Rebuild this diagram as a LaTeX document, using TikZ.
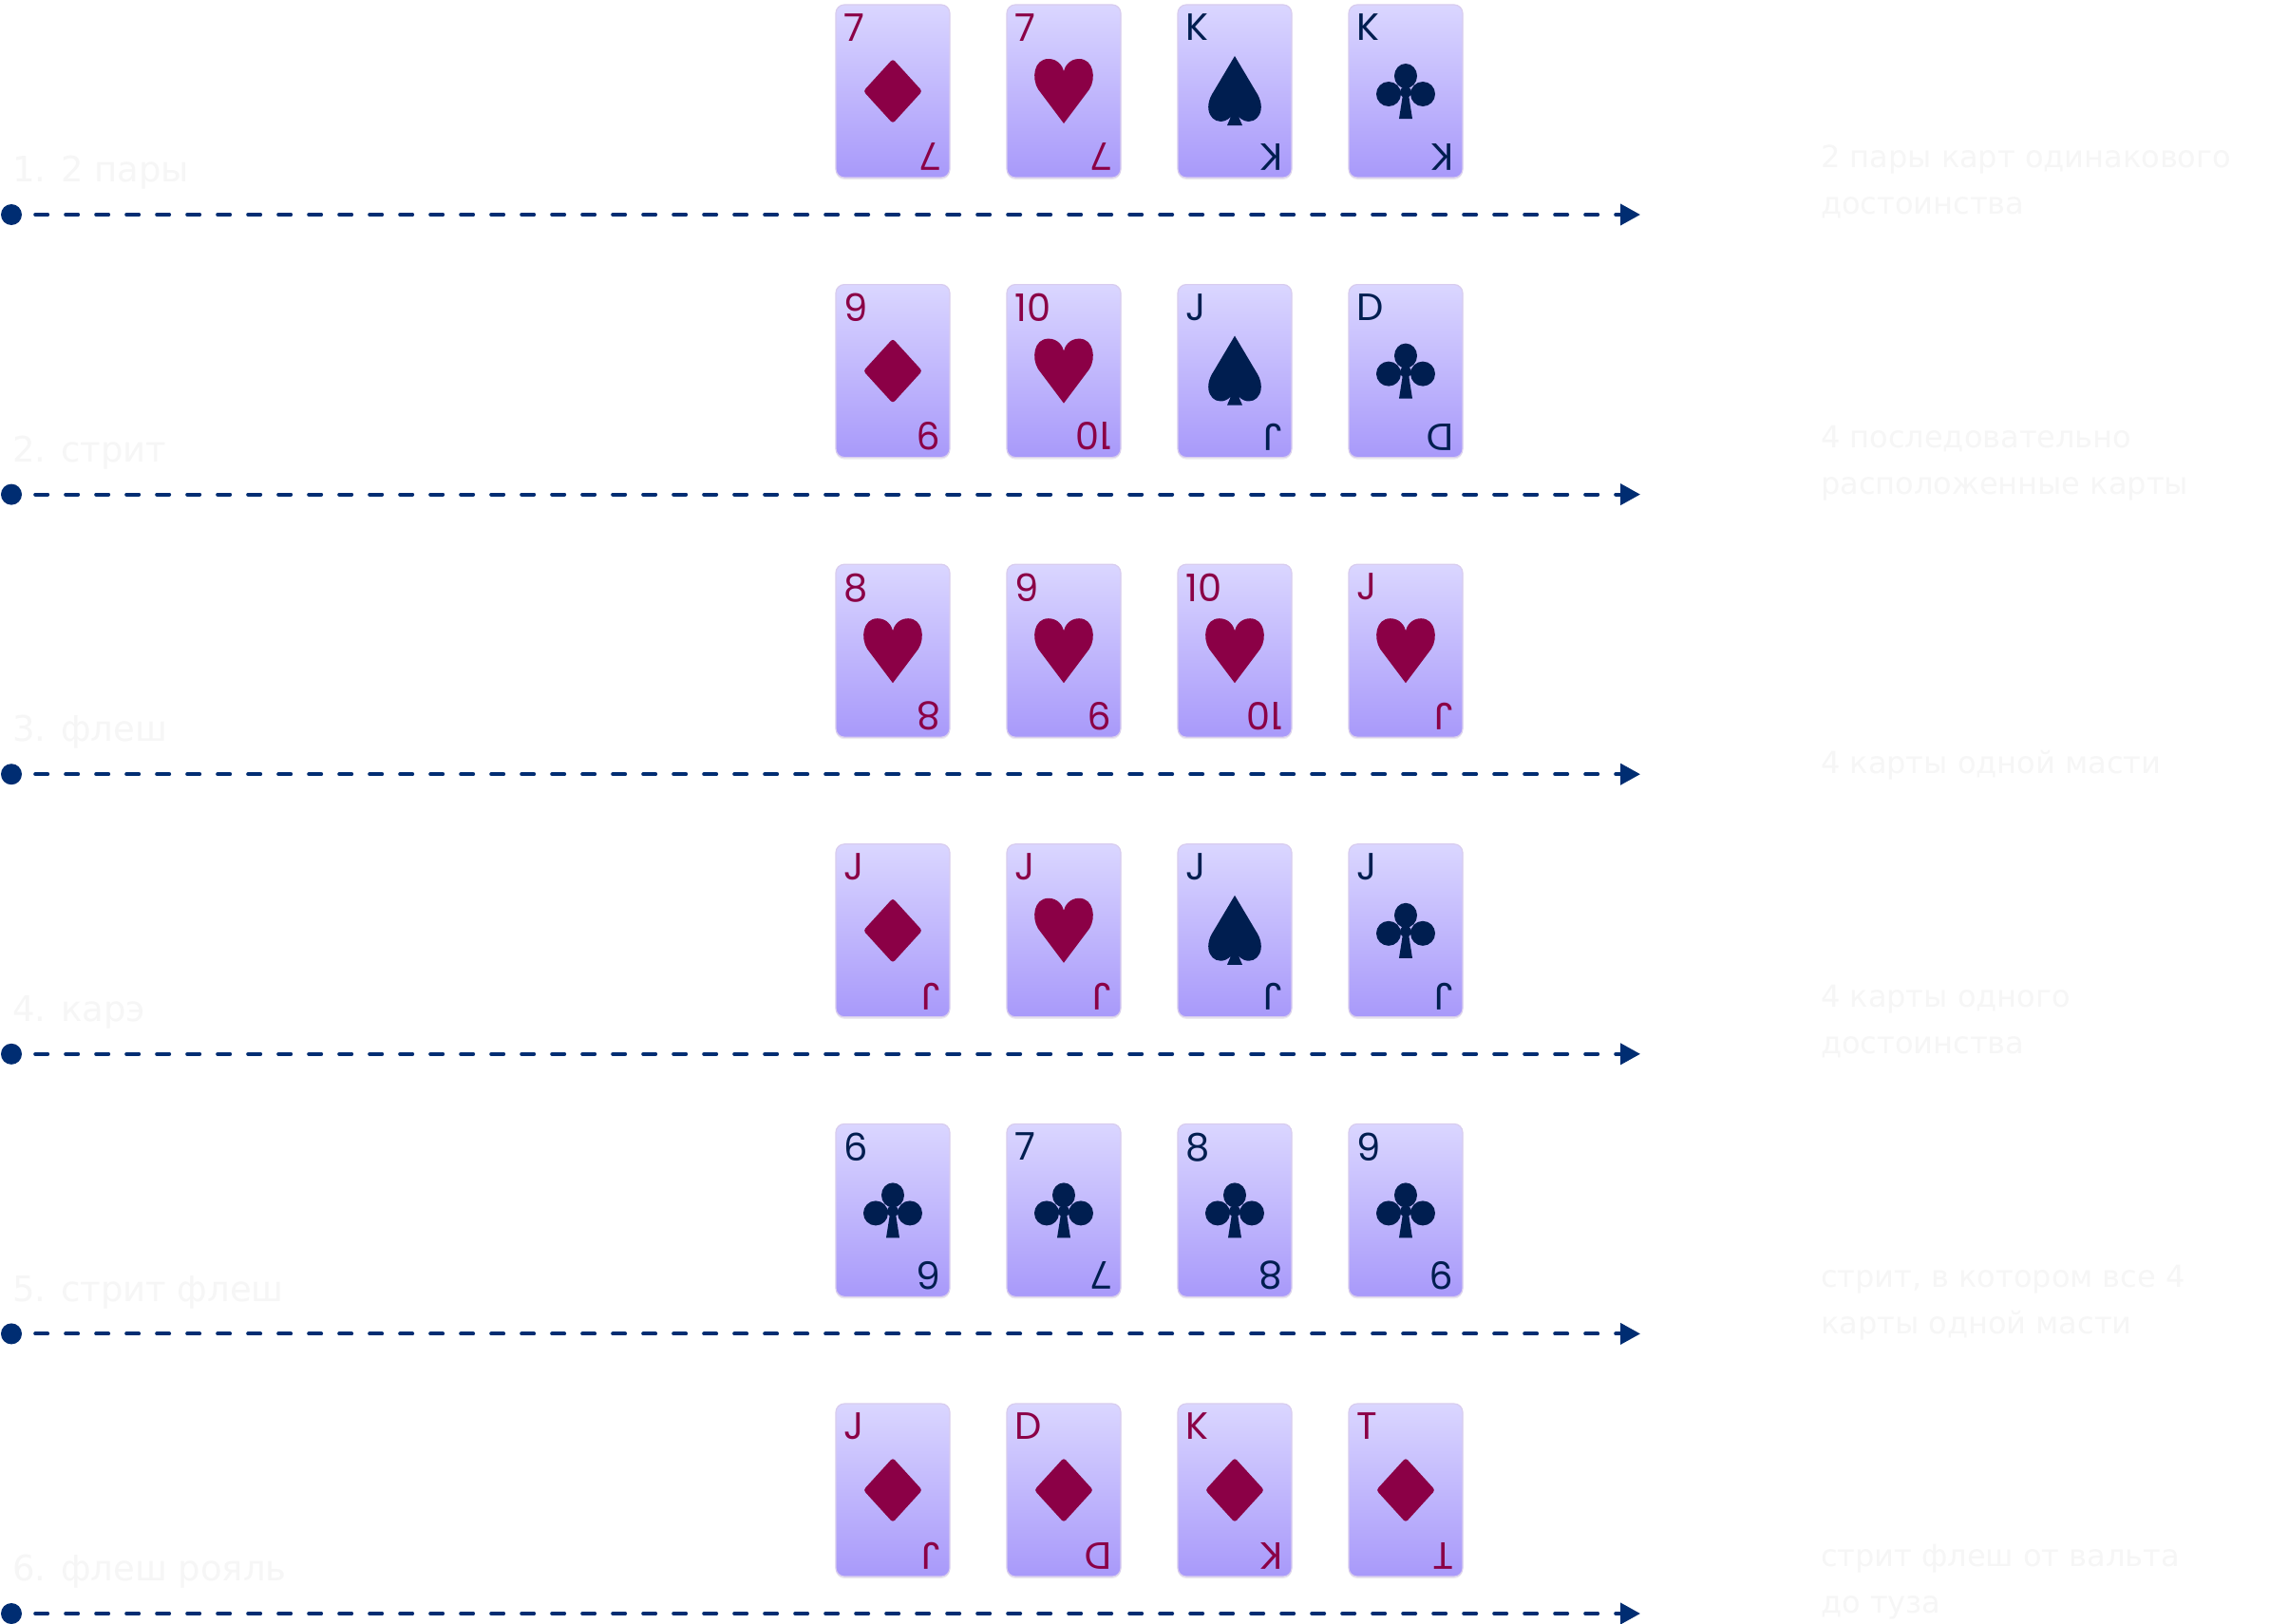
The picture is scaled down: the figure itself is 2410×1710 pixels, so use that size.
\documentclass[tikz,border=0pt]{standalone}
\usepackage{fontspec}
\setmainfont{DejaVu Sans}
\newfontfamily\rankfont{Poppins}
\usetikzlibrary{arrows.meta,calc,shadows}
\definecolor{suitr}{HTML}{8B0046}
\definecolor{suitb}{HTML}{001E50}
\definecolor{cardtop}{HTML}{DAD6FF}
\definecolor{cardbot}{HTML}{A899FA}
\definecolor{cardedge}{HTML}{D8CCEE}
\definecolor{lineblue}{HTML}{002D72}
\definecolor{ghost}{HTML}{F6F6F6}
\tikzset{
  card/.style={draw=cardedge, line width=1.2pt, rounded corners=9pt,
    minimum width=120pt, minimum height=182pt, inner sep=0pt,
    top color=cardtop, bottom color=cardbot,
    drop shadow={opacity=0.18, shadow xshift=0pt, shadow yshift=-2pt, fill=cardedge!70!black}},
  rank/.style={font=\rankfont\fontsize{40}{40}\selectfont, inner sep=0pt},
  dotn/.style={circle, fill=lineblue, minimum size=22pt, inner sep=0pt},
  conn/.style={lineblue, line width=4pt, dash pattern=on 13pt off 19pt, line cap=round,
    -{Triangle[length=21pt,width=22pt]}},
  leftlab/.style={ghost, font=\fontsize{37}{37}\selectfont, inner sep=0pt, anchor=base west},
  rightlab/.style={ghost, font=\fontsize{32}{49}\selectfont, inner sep=0pt, anchor=base west, align=left},
  pics/D/.style={code={\fill[#1, rounded corners=3pt] (0,-34) -- (31,0) -- (0,34) -- (-31,0) -- cycle;}},
  pics/H/.style={code={\fill[#1] (0,34) -- (-27,-2) .. controls (-34,-13) and (-32,-34) .. (-16,-34)
     .. controls (-6,-34) and (-1,-26) .. (0,-21) .. controls (1,-26) and (6,-34) .. (16,-34)
     .. controls (32,-34) and (34,-13) .. (27,-2) -- cycle;}},
  pics/S/.style={code={\fill[#1] (0,-37) -- (-22,0) .. controls (-35,19) and (-24,36) .. (-10,31)
     .. controls (-5,29) and (-2,25) .. (-2,22) -- (-8,36) -- (8,36) -- (2,22)
     .. controls (2,25) and (5,29) .. (10,31) .. controls (24,36) and (35,19) .. (22,0) -- cycle;}},
  pics/C/.style={code={\fill[#1] (0,-16) circle[x radius=12pt, y radius=13pt] (-18,3) circle[radius=13pt] (18,3) circle[radius=13pt];
     \fill[#1] (-1.5,-6) -- (1.5,-6) -- (7,29) -- (-7,29) -- cycle;
     \fill[#1] (0,1) circle[radius=6pt];}},
}
\begin{document}
\begin{tikzpicture}[x=1pt,y=-1pt]
\useasboundingbox (0,0) rectangle (2410,1710);
\fill[white] (0,0) rectangle (2410,1710);
\foreach \row/\cards in {0/{7/D/suitr,7/H/suitr,K/S/suitb,K/C/suitb},
                         1/{9/D/suitr,10/H/suitr,J/S/suitb,D/C/suitb},
                         2/{8/H/suitr,9/H/suitr,10/H/suitr,J/H/suitr},
                         3/{J/D/suitr,J/H/suitr,J/S/suitb,J/C/suitb},
                         4/{6/C/suitb,7/C/suitb,8/C/suitb,9/C/suitb},
                         5/{J/D/suitr,D/D/suitr,K/D/suitr,T/D/suitr}}{
  \pgfmathsetmacro{\cy}{96+294.6*\row}
  \foreach \rk/\st/\col [count=\c from 0] in \cards {
    \pgfmathsetmacro{\cx}{940+180*\c}
    \node[card] (card-\row-\c) at (\cx,\cy) {};
    \pic at (card-\row-\c.center) {\st=\col};
    \node[rank, text=\col, anchor=north west] (rt-\row-\c) at ($(card-\row-\c.north west)+(9,10)$) {\rk};
    \node[rank, text=\col, anchor=north west, rotate=180] (rb-\row-\c) at ($(card-\row-\c.south east)+(-10,-8)$) {\rk};
  }
  \pgfmathsetmacro{\ly}{226+294.6*\row}
  \node[dotn] (dot-\row) at (12,\ly) {};
  \coordinate (end-\row) at (1727,\ly);
  \draw[conn] ($(dot-\row.east)+(14,0)$) -- (end-\row);
}
\node[leftlab] (l1) at (13,191) {1. 2 пары};
\node[leftlab] (l2) at (13,486) {2. стрит};
\node[leftlab] (l3) at (13,780) {3. флеш};
\node[leftlab] (l4) at (13,1075) {4. карэ};
\node[leftlab] (l5) at (13,1370) {5. стрит флеш};
\node[leftlab] (l6) at (13,1664) {6. флеш рояль};
\node[rightlab] (r1) at (1917,225) {2 пары карт одинакового\\достоинства};
\node[rightlab] (r2) at (1917,520) {4 последовательно\\расположенные карты};
\node[rightlab] (r3) at (1917,814) {4 карты одной масти};
\node[rightlab] (r4) at (1917,1109) {4 карты одного\\достоинства};
\node[rightlab] (r5) at (1917,1404) {стрит, в котором все 4\\карты одной масти};
\node[rightlab] (r6) at (1917,1698) {стрит флеш от вальта\\до туза};
\end{tikzpicture}
\end{document}
